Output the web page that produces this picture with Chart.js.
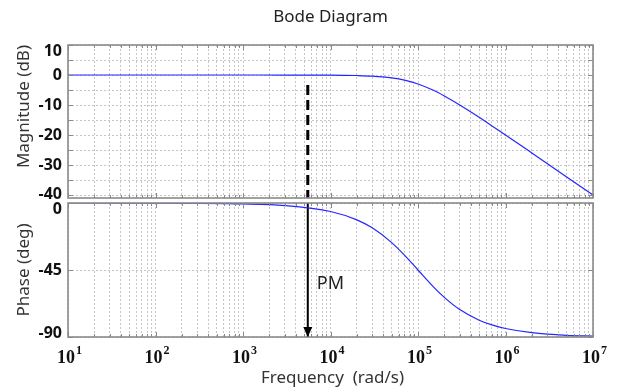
<!DOCTYPE html>
<html lang="en">
<head>
<meta charset="UTF-8" />
<title>Bode Diagram</title>
<style>
  html, body { margin: 0; padding: 0; background: #fff; overflow: hidden; }
  #wrap { position: relative; width: 621px; height: 389px; }
  canvas { position: absolute; left: 0; }
  #magChart { top: 0; }
  #phaseChart { top: 190px; }
</style>
</head>
<body>
<div id="wrap">
  <canvas id="magChart" width="621" height="205"></canvas>
  <canvas id="phaseChart" width="621" height="199"></canvas>
</div>

<script src="https://cdn.jsdelivr.net/npm/chart.js@4"></script>
<script>
  // response (frequency in rad/s)
  const freqs    = [10, 100, 1e3, 3e3, 1e4, 2e4, 3e4, 5e4, 7e4, 1e5, 1.5e5, 2e5, 3e5, 5e5, 7e5, 1e6, 2e6, 5e6, 1e7];
  const magDb    = [0, 0, 0, -0.01, -0.04, -0.17, -0.37, -0.97, -1.7, -3.0, -5.1, -7.0, -10.0, -14.1, -17.0, -20.0, -26.0, -34.0, -40.0];
  const phaseDeg = [0, -0.06, -0.6, -1.7, -5.7, -11.3, -16.7, -26.6, -35.0, -45.0, -56.3, -63.4, -71.6, -78.7, -81.9, -84.3, -87.1, -88.9, -89.4];

  // axes
  const decades     = [1, 2, 3, 4, 5, 6, 7];
  const magTicks    = [10, 5, 0, -5, -10, -15, -20, -25, -30, -35, -40];
  const magLabels   = [10, 0, -10, -20, -30, -40];
  const phaseTicks  = [0, -45, -90];
  const phaseLabels = [0, -45, -90];

  // phase margin marker
  const pmFreq     = 5500;
  const pmMag      = [-3.3, -41];
  const pmPhase    = [0, -90];
  const pmLabelDeg = -54;

  const blue = '#2525ff';
  const gridColor = '#c6c6c6';
  const frameColor = '#8a8a8a';

  // minor grid: 1..9 per decade
  const xGrid = [];
  decades.slice(0, -1).forEach(d => {
    for (let m = 1; m <= 9; m++) xGrid.push(m * Math.pow(10, d));
  });
  xGrid.push(Math.pow(10, decades[decades.length - 1]));

  const magPoints = freqs.map((f, i) => ({ x: f, y: magDb[i] }));
  const phasePoints = freqs.map((f, i) => ({ x: f, y: phaseDeg[i] }));

  const isDecade = v => Math.abs(Math.log10(v) - Math.round(Math.log10(v))) < 1e-9;

  // frame, inward ticks, tick labels, arrow head
  const bodeFrame = {
    id: 'bodeFrame',
    afterDraw(chart, args, opts) {
      const { ctx, chartArea: a, scales: { x, y } } = chart;
      ctx.save();

      ctx.strokeStyle = frameColor;
      ctx.lineWidth = 1;
      ctx.beginPath();
      x.ticks.forEach(t => {
        const px = Math.round(x.getPixelForValue(t.value)) + 0.5;
        const len = isDecade(t.value) ? 5 : 3;
        ctx.moveTo(px, a.top); ctx.lineTo(px, a.top + len);
        ctx.moveTo(px, a.bottom); ctx.lineTo(px, a.bottom - len);
      });
      y.ticks.forEach(t => {
        const py = Math.round(y.getPixelForValue(t.value)) + 0.5;
        ctx.moveTo(a.left, py); ctx.lineTo(a.left + 5, py);
        ctx.moveTo(a.right, py); ctx.lineTo(a.right - 5, py);
      });
      ctx.stroke();

      ctx.lineWidth = 1.6;
      ctx.strokeRect(a.left, a.top, a.right - a.left, a.bottom - a.top);

      ctx.fillStyle = '#111';
      ctx.font = 'bold 16px "Noto Sans"';
      ctx.textAlign = 'right';
      ctx.textBaseline = 'middle';
      opts.yLabels.forEach(v => {
        const py = Math.min(Math.max(y.getPixelForValue(v), a.top + 6), a.bottom - 4);
        ctx.fillText(String(v), a.left - 6, py);
      });

      if (opts.xLabels) {
        ctx.textAlign = 'left';
        ctx.textBaseline = 'alphabetic';
        const base = a.bottom + 26;
        decades.forEach(d => {
          const px = x.getPixelForValue(Math.pow(10, d));
          ctx.font = 'bold 18px "Liberation Serif"';
          const w1 = ctx.measureText('10').width;
          ctx.font = 'bold 12px "Liberation Serif"';
          const w2 = ctx.measureText(String(d)).width;
          const x0 = px - (w1 + w2) / 2 + 1;
          ctx.font = 'bold 18px "Liberation Serif"';
          ctx.fillText('10', x0, base);
          ctx.font = 'bold 12px "Liberation Serif"';
          ctx.fillText(String(d), x0 + w1 + 1, base - 9);
        });
        ctx.font = '17px "Noto Sans"';
        ctx.fillStyle = '#333';
        ctx.textAlign = 'center';
        ctx.textBaseline = 'middle';
        ctx.fillText('Frequency  (rad/s)', (a.left + a.right) / 2 + 2, a.bottom + 41);
      }

      if (opts.arrow) {
        const px = x.getPixelForValue(pmFreq);
        const tip = y.getPixelForValue(pmPhase[1]);
        ctx.fillStyle = '#000';
        ctx.beginPath();
        ctx.moveTo(px, tip);
        ctx.lineTo(px - 4.5, tip - 10);
        ctx.lineTo(px + 4.5, tip - 10);
        ctx.closePath();
        ctx.fill();
        ctx.font = '18px "Noto Sans"';
        ctx.fillStyle = '#222';
        ctx.textAlign = 'left';
        ctx.textBaseline = 'middle';
        ctx.fillText('PM', px + 9, y.getPixelForValue(pmLabelDeg));
      }
      ctx.restore();
    }
  };

  function xScale() {
    return {
      type: 'logarithmic',
      min: 10,
      max: 1e7,
      afterBuildTicks: s => { s.ticks = xGrid.map(v => ({ value: v })); },
      afterFit: s => { s.height = 0; },
      ticks: { display: false },
      grid: { color: gridColor, drawTicks: false },
      border: { display: false, dash: [2, 2] }
    };
  }

  function yScale(min, max, ticks, title, align) {
    return {
      min: min,
      max: max,
      afterBuildTicks: s => { s.ticks = ticks.map(v => ({ value: v })); },
      afterFit: s => { s.width = 68; },
      ticks: { display: false },
      grid: { color: gridColor, drawTicks: false },
      border: { display: false, dash: [2, 2] },
      title: {
        display: true,
        text: title,
        align: align,
        color: '#333',
        font: { family: '"Noto Sans"', size: 17 },
        padding: { top: 14, bottom: 0 }
      }
    };
  }

  const magChart = new Chart(document.getElementById('magChart'), {
    type: 'line',
    data: {
      datasets: [
        {
          data: magPoints,
          borderColor: blue,
          borderWidth: 1.2,
          pointRadius: 0,
          cubicInterpolationMode: 'monotone'
        },
        {
          data: pmMag.map(v => ({ x: pmFreq, y: v })),
          borderColor: '#000',
          borderWidth: 3,
          borderDash: [10, 5],
          pointRadius: 0
        }
      ]
    },
    options: {
      responsive: false,
      animation: false,
      layout: { padding: { top: 0, left: 0, right: 28, bottom: 7 } },
      scales: {
        x: xScale(),
        y: yScale(-41, 10, magTicks, 'Magnitude (dB)', 'end')
      },
      plugins: {
        legend: { display: false },
        tooltip: { enabled: false },
        title: {
          display: true,
          text: 'Bode Diagram',
          fullSize: false,
          color: '#222',
          font: { family: '"Noto Sans"', size: 17, weight: 'normal' },
          padding: { top: 7, bottom: 17.6 }
        },
        bodeFrame: { yLabels: magLabels, xLabels: false, arrow: false }
      }
    },
    plugins: [bodeFrame]
  });

  const phaseChart = new Chart(document.getElementById('phaseChart'), {
    type: 'line',
    data: {
      datasets: [
        {
          data: phasePoints,
          borderColor: blue,
          borderWidth: 1.2,
          pointRadius: 0,
          cubicInterpolationMode: 'monotone'
        },
        {
          data: pmPhase.map(v => ({ x: pmFreq, y: v })),
          borderColor: '#000',
          borderWidth: 2,
          pointRadius: 0
        }
      ]
    },
    options: {
      responsive: false,
      animation: false,
      layout: { padding: { top: 13, left: 0, right: 28, bottom: 52 } },
      scales: {
        x: xScale(),
        y: yScale(-90, 0, phaseTicks, 'Phase (deg)', 'center')
      },
      plugins: {
        legend: { display: false },
        tooltip: { enabled: false },
        bodeFrame: { yLabels: phaseLabels, xLabels: true, arrow: true }
      }
    },
    plugins: [bodeFrame]
  });
</script>
</body>
</html>
